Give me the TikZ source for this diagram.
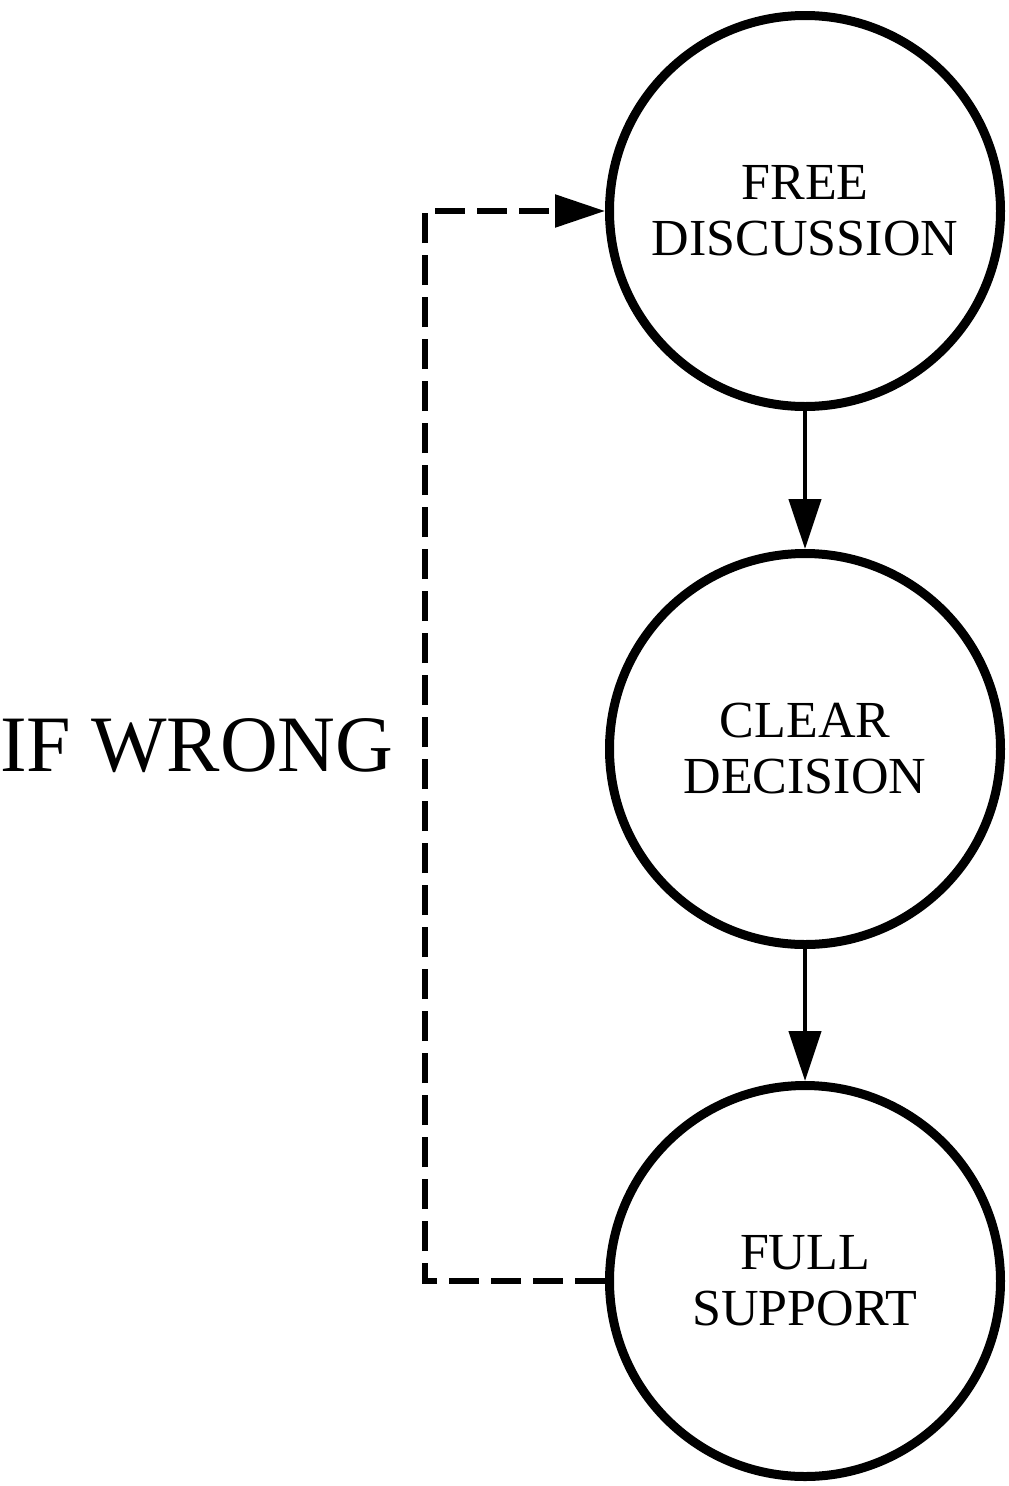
\documentclass[tikz,border=0pt]{standalone}
\usepackage{fontspec}
\setmainfont{Liberation Serif}
\usetikzlibrary{arrows.meta}
\begin{document}
\begin{tikzpicture}[x=1pt,y=-1pt,
  stage/.style={circle,draw=black,line width=9pt,minimum size=391pt,inner sep=0pt,
    align=center,font=\fontsize{52}{56}\selectfont},
  flow/.style={line width=4.5pt,-{Triangle[length=50pt,width=32pt]}},
  back/.style={line width=5.5pt,dash pattern=on 30pt off 12pt,-{Triangle[length=50pt,width=32pt]}},
  lbl/.style={inner sep=0pt,font=\fontsize{80}{82}\selectfont}]
\useasboundingbox (0,0) rectangle (1009,1486);
\node[stage] (f) at (805,211) {FREE\\DISCUSSION};
\node[stage] (c) at (805,749) {CLEAR\\DECISION};
\node[stage] (s) at (805,1281) {FULL\\SUPPORT};
\draw[flow] (f.south) -- (c.north);
\draw[flow] (c.south) -- (s.north);
\coordinate (cl) at (425,0);
\draw[back] (s.west) -- (s.west -| cl) -- (f.west -| cl) -- (f.west);
\node[lbl,anchor=base west] (w) at (0,771) {IF WRONG};
\end{tikzpicture}
\end{document}
